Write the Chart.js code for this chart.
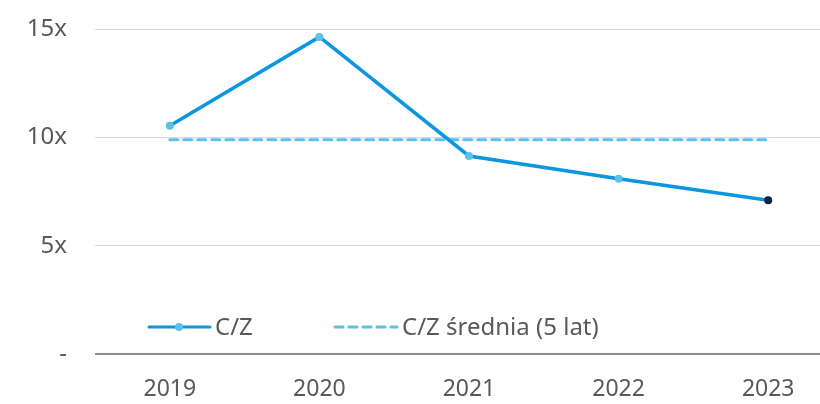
<!DOCTYPE html>
<html>
<head>
<meta charset="utf-8">
<script src="https://cdn.jsdelivr.net/npm/chart.js@4"></script>
<style>
  html, body { margin: 0; padding: 0; background: #fff; overflow: hidden; }
  .wrap { width: 847px; height: 417px; margin-top: -13px; position: relative; }
</style>
</head>
<body>
<div class="wrap"><canvas id="c"></canvas></div>
<script>
const years = ['2019', '2020', '2021', '2022', '2023'];
const cz = [10.55, 14.65, 9.15, 8.1, 7.1];
const czAvg = [9.9, 9.9, 9.9, 9.9, 9.9];
const yTicks = [0, 5, 10, 15];

const FONT = '"Noto Sans", sans-serif';
const TEXT = '#595959';
const BLUE = '#0a96e0';
const LIGHT = '#5bc0eb';
const NAVY = '#0b2545';

// legend drawn inside the plot, above the axis
const legendInside = {
  id: 'legendInside',
  afterDraw(chart) {
    const ctx = chart.ctx;
    const y = chart.chartArea.bottom - 27;
    ctx.save();
    ctx.font = '24px ' + FONT;
    ctx.fillStyle = TEXT;
    ctx.textBaseline = 'middle';

    ctx.strokeStyle = BLUE;
    ctx.lineWidth = 3;
    ctx.lineCap = 'round';
    ctx.beginPath(); ctx.moveTo(149, y); ctx.lineTo(210, y); ctx.stroke();
    ctx.fillStyle = LIGHT;
    ctx.beginPath(); ctx.arc(179, y, 4, 0, Math.PI * 2); ctx.fill();
    ctx.fillStyle = TEXT;
    ctx.fillText(chart.data.datasets[0].label, 215, y + 1);

    ctx.strokeStyle = LIGHT;
    ctx.setLineDash([8, 6]);
    ctx.beginPath(); ctx.moveTo(335, y); ctx.lineTo(397, y); ctx.stroke();
    ctx.setLineDash([]);
    ctx.fillText(chart.data.datasets[1].label, 402, y + 1);
    ctx.restore();
  }
};

new Chart(document.getElementById('c'), {
  type: 'line',
  data: {
    labels: years,
    datasets: [
      {
        label: 'C/Z',
        data: cz,
        borderColor: BLUE,
        borderWidth: 3.5,
        pointRadius: 4,
        pointHoverRadius: 4,
        pointBorderWidth: 0,
        pointBackgroundColor: cz.map((v, i) => (i === cz.length - 1 ? NAVY : LIGHT)),
        tension: 0,
      },
      {
        label: 'C/Z średnia (5 lat)',
        data: czAvg,
        borderColor: LIGHT,
        borderWidth: 3,
        borderDash: [8, 6],
        borderCapStyle: 'round',
        pointRadius: 0,
        tension: 0,
      },
    ],
  },
  options: {
    responsive: true,
    maintainAspectRatio: false,
    animation: false,
    layout: { padding: { top: 2, left: 0, right: 0, bottom: 0 } },
    plugins: { legend: { display: false }, tooltip: { enabled: false } },
    scales: {
      x: {
        offset: true,
        grid: { display: false, offset: true },
        border: { display: false },
        ticks: { color: TEXT, font: { family: FONT, size: 23 }, padding: 14 },
        afterFit(s) { s.height = 50; },
      },
      y: {
        min: 0,
        max: 15,
        afterBuildTicks(s) { s.ticks = yTicks.map((v) => ({ value: v })); },
        border: { display: false },
        grid: {
          drawTicks: false,
          color: (c) => (c.tick && c.tick.value === 0 ? '#8c8c8c' : '#d9d9d9'),
          lineWidth: (c) => (c.tick && c.tick.value === 0 ? 2 : 1),
        },
        ticks: {
          color: TEXT,
          font: { family: FONT, size: 24 },
          padding: 28,
          callback: (v) => (v === 0 ? '-' : v + 'x'),
        },
        afterFit(s) { s.width = 95; },
      },
    },
  },
  plugins: [legendInside],
});
</script>
</body>
</html>
